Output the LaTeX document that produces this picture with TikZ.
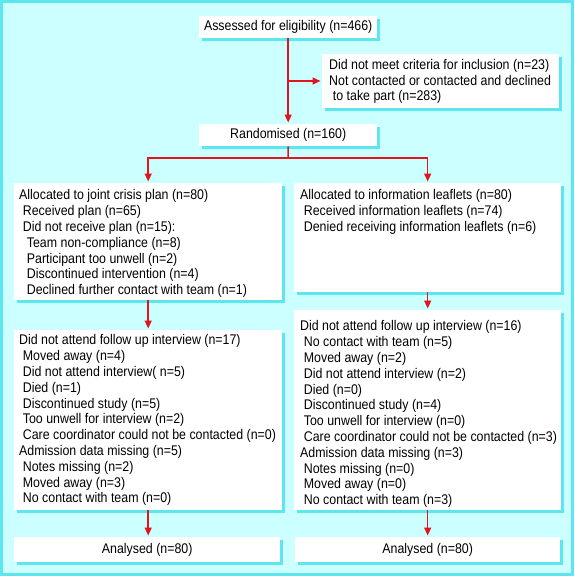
\documentclass[tikz,border=0pt]{standalone}
\usepackage{fontspec}
\setmainfont{Liberation Sans}[FakeStretch=0.885]
\usetikzlibrary{arrows.meta,shadows}
\definecolor{bgc}{HTML}{CCFFFF}
\definecolor{shc}{HTML}{5CE6F0}
\definecolor{arc}{HTML}{E0161E}
\newcommand\indA{\hspace*{3.7pt}}
\newcommand\indB{\hspace*{7.7pt}}
\begin{document}
\begin{tikzpicture}[x=1pt,y=-1pt,
  box/.style={fill=white, draw=none, inner sep=0pt, anchor=north west,
    font=\fontsize{14}{15.8}\selectfont,
    drop shadow={shadow xshift=2.5pt, shadow yshift=-2.5pt, fill=shc, opacity=1}},
  txt/.style={inner sep=0pt, anchor=north west, align=left,
    font=\fontsize{14}{15.8}\selectfont},
  ln/.style={draw=arc, line width=1.5pt},
  arr/.style={ln, shorten >=1.5pt, -{Triangle[length=8pt,width=7pt]}}]
\useasboundingbox (0,0) rectangle (574,576);
\fill[bgc] (0,0) rectangle (574,576);
\draw[shc, line width=3pt] (1.5,1.5) rectangle (572.5,574.5);

% boxes
\node[box, minimum width=178pt, minimum height=22pt] (a) at (199,16) {Assessed for eligibility (n=466)};
\node[box, minimum width=237pt, minimum height=54pt] (ex) at (322,54) {};
\node[box, minimum width=178pt, minimum height=22pt] (r) at (199,124) {Randomised (n=160)};
\node[box, minimum width=268pt, minimum height=117pt] (l2) at (14,183) {};
\node[box, minimum width=267pt, minimum height=109pt] (r2) at (294,183) {};
\node[box, minimum width=268pt, minimum height=180pt] (l3) at (14,330) {};
\node[box, minimum width=267pt, minimum height=200pt] (r3) at (294,310) {};
\node[box, minimum width=266pt, minimum height=25pt] (al) at (14,537) {Analysed (n=80)};
\node[box, minimum width=265pt, minimum height=25pt] (ar) at (295,537) {Analysed (n=80)};

% texts
\node[txt] (ext) at ([shift={(7,5)}]ex.north west)
  {Did not meet criteria for inclusion (n=23)\\
   Not contacted or contacted and declined\\
   \indA to take part (n=283)};
\node[txt] (l2t) at ([shift={(5,6.5)}]l2.north west)
  {Allocated to joint crisis plan (n=80)\\
   \indA Received plan (n=65)\\
   \indA Did not receive plan (n=15):\\
   \indB Team non-compliance (n=8)\\
   \indB Participant too unwell (n=2)\\
   \indB Discontinued intervention (n=4)\\
   \indB Declined further contact with team (n=1)};
\node[txt] (r2t) at ([shift={(6,6.5)}]r2.north west)
  {Allocated to information leaflets (n=80)\\
   \indA Received information leaflets (n=74)\\
   \indA Denied receiving information leaflets (n=6)};
\node[txt] (l3t) at ([shift={(5,4.5)}]l3.north west)
  {Did not attend follow up interview (n=17)\\
   \indA Moved away (n=4)\\
   \indA Did not attend interview( n=5)\\
   \indA Died (n=1)\\
   \indA Discontinued study (n=5)\\
   \indA Too unwell for interview (n=2)\\
   \indA Care coordinator could not be contacted (n=0)\\
   Admission data missing (n=5)\\
   \indA Notes missing (n=2)\\
   \indA Moved away (n=3)\\
   \indA No contact with team (n=0)};
\node[txt] (r3t) at ([shift={(6,10.5)}]r3.north west)
  {Did not attend follow up interview (n=16)\\
   \indA No contact with team (n=5)\\
   \indA Moved away (n=2)\\
   \indA Did not attend interview (n=2)\\
   \indA Died (n=0)\\
   \indA Discontinued study (n=4)\\
   \indA Too unwell for interview (n=0)\\
   \indA Care coordinator could not be contacted (n=3)\\
   Admission data missing (n=3)\\
   \indA Notes missing (n=0)\\
   \indA Moved away (n=0)\\
   \indA No contact with team (n=3)};

% connectors
\coordinate (br) at (288,81);
\coordinate (sp) at (288,158);
\draw[arr] (a.south) -- (r.north);
\draw[arr] (br) -- (ex.west |- br);
\draw[ln] (r.south) -- (sp);
\draw[arr] (sp) -| (l2.north);
\draw[arr] (sp) -| (r2.north);
\draw[arr] (l2.south) -- (l3.north);
\draw[arr] (r2.south) -- (r3.north);
\draw[arr] (l3.south) -- (l3.south |- al.north);
\draw[arr] (r3.south) -- (r3.south |- ar.north);
\end{tikzpicture}
\end{document}
